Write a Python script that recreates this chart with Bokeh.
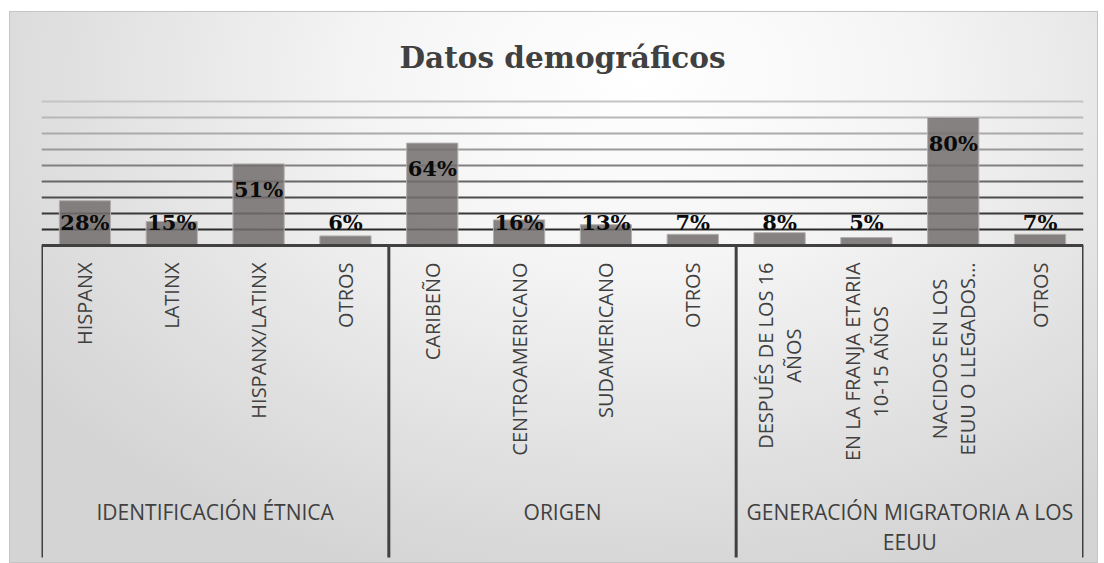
import numpy as np
from bokeh.plotting import figure
from bokeh.models import FactorRange, Range1d, ColumnDataSource, Grid, FixedTicker, Span
from bokeh.core.properties import value
from bokeh.embed import file_html
from bokeh.resources import INLINE

# ---- data ----
groups = ["IDENTIFICACIÓN ÉTNICA", "ORIGEN", "GENERACIÓN MIGRATORIA A LOS\nEEUU"]
subcats = [
    ["HISPANX", "LATINX", "HISPANX/LATINX", "OTROS"],
    ["CARIBEÑO", "CENTROAMERICANO", "SUDAMERICANO", "OTROS"],
    ["DESPUÉS DE LOS 16\nAÑOS", "EN LA FRANJA ETARIA\n10-15 AÑOS", "NACIDOS EN LOS\nEEUU O LLEGADOS…", "OTROS"],
]
pct = [
    [28, 15, 51, 6],
    [64, 16, 13, 7],
    [8, 5, 80, 7],
]
grid_ticks = [10, 20, 30, 40, 50, 60, 70, 80, 90]
title_text = "Datos demográficos"

factors = [(g, c) for g, cs in zip(groups, subcats) for c in cs]
vals = np.array([v for vs in pct for v in vs], dtype=float)

x_range = FactorRange(*factors, factor_padding=0, group_padding=0,
                      subgroup_padding=0, range_padding=0)
y_lo, y_hi = -198.1, 92.5

p = figure(x_range=x_range, y_range=Range1d(y_lo, y_hi), width=1087, height=550,
           output_backend="svg", toolbar_location=None,
           x_axis_location=None, y_axis_location=None,
           min_border_left=31, min_border_right=14, min_border_top=85, min_border_bottom=0,
           title=title_text)
p.margin = (12, 0, 0, 10)
p.grid.visible = False
p.outline_line_color = None
p.background_fill_alpha = 0
p.border_fill_alpha = 0
p.styles = {
    "background": "radial-gradient(ellipse 70% 95% at 58% 12%, #ffffff 0%, #f5f5f5 35%, #e0e0e0 75%, #d4d4d4 100%)",
    "outline": "1px solid #c4c4c4",
}

p.title.text_font = "DejaVu Serif"
p.title.text_font_style = "bold"
p.title.text_font_size = "29.5px"
p.title.text_color = "#404040"
p.title.align = "center"
p.title.standoff = 46

grid_colors = ["#2a2a2a", "#383838", "#4c4c4c", "#666666", "#808080",
               "#999999", "#aaaaaa", "#b8b8b8", "#c4c4c4"]
for t, col in zip(grid_ticks, grid_colors):
    p.add_layout(Grid(dimension=1, ticker=FixedTicker(ticks=[t]),
                      grid_line_color=col, grid_line_width=2))

src = ColumnDataSource(dict(
    x=factors, top=vals,
    lab=[f"{int(v)}%" for v in vals],
    ly=np.maximum(vals - 16, 14.5),
))
p.vbar(x="x", top="top", width=0.59, source=src,
       fill_color="#726d6c", fill_alpha=0.85, line_color="#b3afae", line_width=1)

p.add_layout(Span(location=0, dimension="width", line_color="#404040", line_width=3))

seps = [(g, cs[0], -0.5) for g, cs in zip(groups, subcats)] + [(groups[-1], subcats[-1][-1], 0.5)]
p.segment(x0=seps, y0=[0] * len(seps), x1=seps, y1=[-195] * len(seps),
          line_color="#404040", line_width=3)

p.text(x="x", y="ly", text="lab", source=src, text_align="center", text_baseline="middle",
       text_font=value("DejaVu Serif"), text_font_style="bold", text_font_size="21px",
       text_color="#0a0a0a")

p.text(x=factors, y=[-10.6] * len(factors), text=[c for cs in subcats for c in cs],
       angle=np.pi / 2, anchor="center_right", text_align="center", text_baseline="middle",
       text_font=value("Open Sans"), text_font_size="20px", text_color="#404040",
       text_line_height=1.05)

p.text(x=groups, y=[-158] * len(groups), text=groups,
       anchor="top_center", text_align="center", text_baseline="top",
       text_font=value("Open Sans"), text_font_size="21px", text_color="#404040",
       text_line_height=1.05)

open("out.html", "w").write(file_html(p, INLINE))
